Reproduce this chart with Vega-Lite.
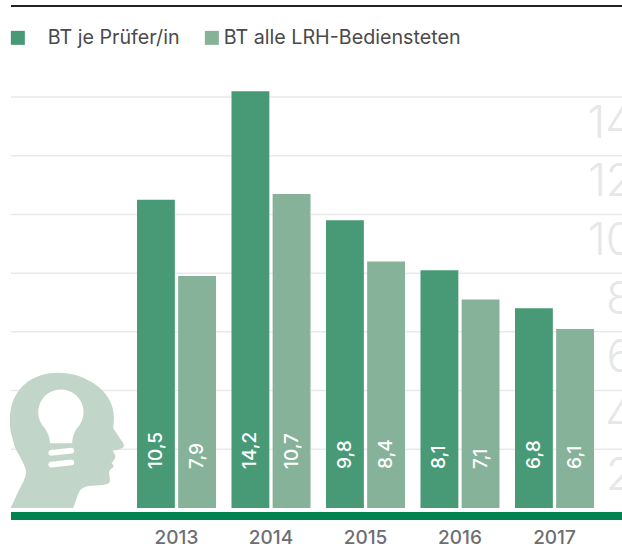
{"$schema":"https://vega.github.io/schema/vega-lite/v6.json","autosize":"none","width":611,"height":502,"padding":{"left":11,"top":6,"right":0,"bottom":36},"background":"white","config":{"view":{"stroke":null},"font":"Inter"},"data":{"values":[{"year":"2013","series":"BT je Prüfer/in","value":10.5,"label":"10,5"},{"year":"2013","series":"BT alle LRH-Bediensteten","value":7.9,"label":"7,9"},{"year":"2014","series":"BT je Prüfer/in","value":14.2,"label":"14,2"},{"year":"2014","series":"BT alle LRH-Bediensteten","value":10.7,"label":"10,7"},{"year":"2015","series":"BT je Prüfer/in","value":9.8,"label":"9,8"},{"year":"2015","series":"BT alle LRH-Bediensteten","value":8.4,"label":"8,4"},{"year":"2016","series":"BT je Prüfer/in","value":8.1,"label":"8,1"},{"year":"2016","series":"BT alle LRH-Bediensteten","value":7.1,"label":"7,1"},{"year":"2017","series":"BT je Prüfer/in","value":6.8,"label":"6,8"},{"year":"2017","series":"BT alle LRH-Bediensteten","value":6.1,"label":"6,1"}]},"resolve":{"scale":{"color":"independent"},"legend":{"color":"independent"}},"layer":[{"data":{"values":[{"tick":2},{"tick":4},{"tick":6},{"tick":8},{"tick":10},{"tick":12},{"tick":14}]},"mark":{"type":"rule","color":"#e9e9e9","strokeWidth":1.5},"encoding":{"y":{"field":"tick","type":"quantitative"}}},{"transform":[{"filter":"datum.series === 'BT je Prüfer/in'"}],"mark":{"type":"bar","cornerRadius":0},"encoding":{"x":{"field":"year","type":"nominal","title":null,"scale":{"domain":["2013","2014","2015","2016","2017"],"range":[118.25,590.75],"paddingInner":0.164,"paddingOuter":0.082},"axis":{"domain":false,"ticks":false,"labelAngle":0,"labelFontSize":19,"labelFontWeight":500,"labelColor":"#6d6e71","labelPadding":20,"grid":false}},"xOffset":{"field":"series","type":"nominal","scale":{"domain":["BT je Prüfer/in","BT alle LRH-Bediensteten"],"paddingInner":0.08}},"y":{"field":"value","type":"quantitative","title":null,"scale":{"domain":[0,17.1],"nice":false},"axis":{"orient":"right","values":[2,4,6,8,10,12,14],"grid":false,"domain":false,"ticks":false,"labelFontSize":45,"labelFontWeight":300,"labelColor":"#e6e7e8","labelAlign":"right","labelBaseline":"middle","labelPadding":11,"labelOffset":26,"labelBound":false,"labelOverlap":false,"labelFlush":false}},"color":{"field":"series","type":"nominal","scale":{"domain":["BT je Prüfer/in"],"range":["#479a75"]},"legend":{"title":null,"orient":"none","legendX":-3,"legendY":22,"symbolType":"square","symbolSize":196,"symbolStrokeWidth":0,"symbolOpacity":1,"labelFontSize":19.7,"labelColor":"#4a4a4a","labelOffset":20,"labelLimit":400}}}},{"transform":[{"filter":"datum.series === 'BT alle LRH-Bediensteten'"}],"mark":{"type":"bar","cornerRadius":0},"encoding":{"x":{"field":"year","type":"nominal"},"xOffset":{"field":"series","type":"nominal"},"y":{"field":"value","type":"quantitative"},"color":{"field":"series","type":"nominal","scale":{"domain":["BT alle LRH-Bediensteten"],"range":["#86b299"]},"legend":{"title":null,"orient":"none","legendX":191,"legendY":22,"symbolType":"square","symbolSize":196,"symbolStrokeWidth":0,"symbolOpacity":1,"labelFontSize":19.7,"labelColor":"#4a4a4a","labelOffset":2,"labelLimit":400}}}},{"mark":{"type":"text","angle":270,"align":"left","baseline":"middle","color":"white","fontSize":19,"fontWeight":500},"encoding":{"x":{"field":"year","type":"nominal"},"xOffset":{"field":"series","type":"nominal"},"y":{"datum":1.33},"text":{"field":"label"}}},{"data":{"values":[{"year":"2013"}]},"mark":{"type":"point","filled":true,"opacity":1,"size":4,"color":"#c1d5c9","shape":"M-165.9 0 L-156.6 -19.7 Q-149 -33 -150.6 -38 Q-152 -43 -156.6 -51.3 Q-163 -62 -164 -70 Q-167 -78 -166.6 -88 C-166.6 -118 -146 -135.3 -118.3 -135.3 C-92 -135.3 -63 -118 -62.6 -91.3 Q-62.6 -85 -63.3 -79.7 L-53.5 -65 Q-51.5 -62 -54 -60 Q-58 -58 -63.9 -57.3 Q-60 -52 -61.6 -49.7 Q-63 -47 -65 -44.7 Q-62 -42 -63.3 -40.7 Q-68 -38 -67.3 -34.7 L-66.6 -28 Q-66 -24 -73.3 -23 L-88.3 -22 Q-97 -20 -98.3 -14 L-103.3 0 Z"},"encoding":{"x":{"field":"year","type":"nominal"},"y":{"datum":0}}},{"data":{"values":[{"year":"2013"}]},"mark":{"type":"point","filled":true,"opacity":1,"size":4,"color":"white","shape":"M-126.6 -64.7 Q-126.5 -72 -131.6 -79.7 A22.7 22.7 0 1 1 -99.6 -79.7 Q-104.5 -72 -104.3 -64.7 Z M-126 -58 L-105 -60.2 A2.9 2.9 0 0 1 -104.5 -54.5 L-125.5 -52.3 A2.9 2.9 0 0 1 -126 -58 Z M-126 -46.3 L-105 -48.5 A2.9 2.9 0 0 1 -104.5 -42.8 L-125.5 -40.6 A2.9 2.9 0 0 1 -126 -46.3 Z"},"encoding":{"x":{"field":"year","type":"nominal"},"y":{"datum":0}}},{"mark":{"type":"rule","color":"#00834f","strokeWidth":8},"encoding":{"y":{"datum":-0.27}}},{"mark":{"type":"rule","color":"#222222","strokeWidth":1.2},"encoding":{"y":{"datum":17.1}}}]}
